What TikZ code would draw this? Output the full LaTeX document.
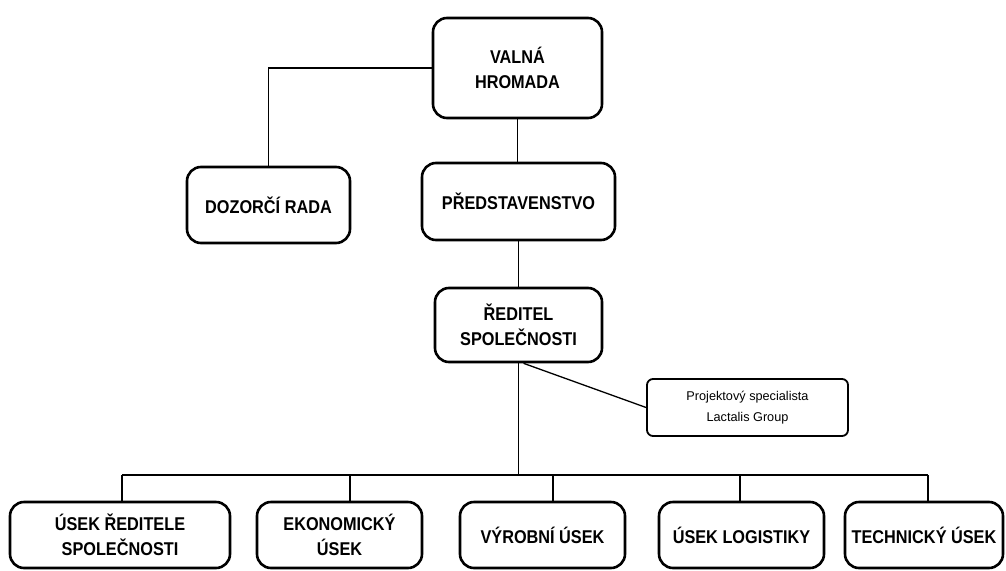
\documentclass[tikz,border=0pt]{standalone}
\usepackage{fontspec}
\setmainfont{Liberation Sans}[BoldFeatures={FakeStretch=0.88}]
\usepackage{tikz}
\usetikzlibrary{positioning}

\begin{document}
\begin{tikzpicture}[
  x=1pt, y=-1pt,
  unit/.style={draw, line width=2.6pt, rounded corners=14pt, align=center,
    inner sep=2pt, font=\bfseries\fontsize{18.5}{25}\selectfont},
  sidebox/.style={draw, line width=1.8pt, rounded corners=6pt, align=center,
    minimum width=201pt, minimum height=57pt, font=\fontsize{12.7}{21}\selectfont},
  link/.style={line width=1.3pt}
]
\useasboundingbox (0,0) rectangle (1006,570);

% --- Vedení společnosti ---
\node[unit, minimum width=169pt, minimum height=100pt] (valna) at (517.5,68) {VALNÁ\\HROMADA};
\node[unit, minimum width=163pt, minimum height=76pt] (dozorci) at (268.5,205) {DOZORČÍ RADA};
\node[unit, minimum width=193pt, minimum height=77pt] (predst) at (518.5,201.5) {PŘEDSTAVENSTVO};
\node[unit, minimum width=167pt, minimum height=74pt] (reditel) at (518.5,325) {ŘEDITEL\\SPOLEČNOSTI};
\node[sidebox] (projekt) at (747.5,407.5) {Projektový specialista\\Lactalis Group};

% --- Úseky ---
\node[unit, minimum width=220pt, minimum height=66pt] (usekred) at (120,535) {ÚSEK ŘEDITELE\\SPOLEČNOSTI};
\node[unit, minimum width=165pt, minimum height=66pt] (ekon) at (339.5,535) {EKONOMICKÝ\\ÚSEK};
\node[unit, minimum width=165pt, minimum height=66pt] (vyrob) at (542.5,535) {VÝROBNÍ ÚSEK};
\node[unit, minimum width=165pt, minimum height=66pt] (logist) at (741.5,535) {ÚSEK LOGISTIKY};
\node[unit, minimum width=158pt, minimum height=66pt] (tech) at (924,535) {TECHNICKÝ ÚSEK};

% --- Sběrnice nad úseky ---
\coordinate (b1) at (122,475);
\coordinate (b2) at (350,475);
\coordinate (b3) at (553,475);
\coordinate (b4) at (740,475);
\coordinate (b5) at (928,475);

% --- Spoje ---
\draw[link] (valna.west) -| (dozorci.north);
\draw[link] (valna.south) -- (valna.south |- predst.north);
\draw[link] (predst.south) -- (predst.south |- reditel.north);
\draw[link] (reditel.south) -- (reditel.south |- b1);
\draw[link] ([xshift=5pt]reditel.south) -- (projekt.west);
\draw[link] (b1) -- (b5);
\draw[link] (b1) -- (b1 |- usekred.north);
\draw[link] (b2) -- (b2 |- ekon.north);
\draw[link] (b3) -- (b3 |- vyrob.north);
\draw[link] (b4) -- (b4 |- logist.north);
\draw[link] (b5) -- (b5 |- tech.north);

\end{tikzpicture}
\end{document}
